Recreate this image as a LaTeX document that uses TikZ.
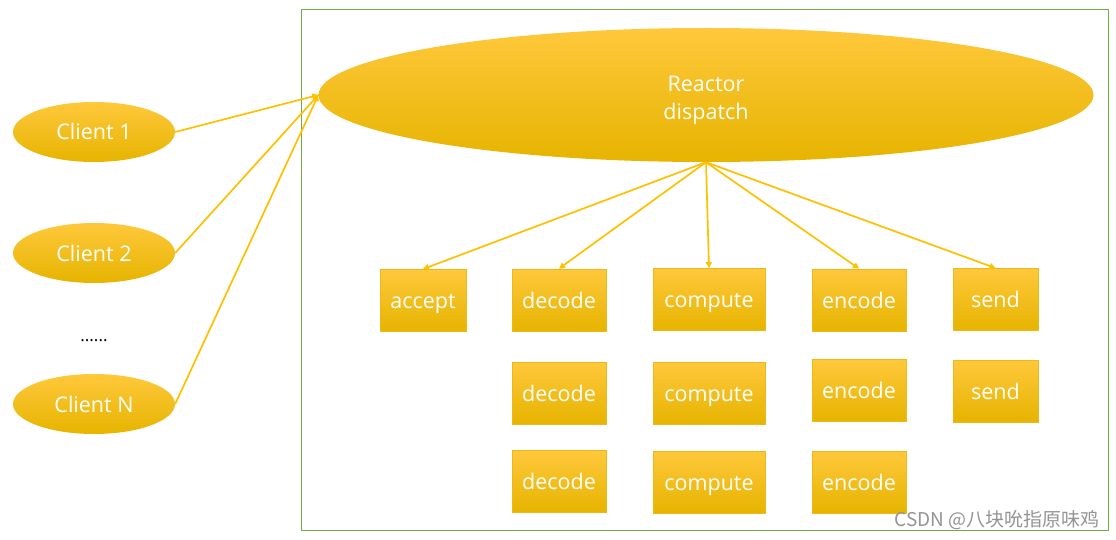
\documentclass[tikz,border=0pt]{standalone}
\usepackage{fontspec}
\setmainfont{Open Sans}
\newfontfamily\cjk{Noto Sans CJK SC}
\usetikzlibrary{shapes.geometric, arrows.meta}

\definecolor{goldtop}{RGB}{255,200,60}
\definecolor{goldmid}{RGB}{255,192,0}
\definecolor{goldbot}{RGB}{230,180,0}
\definecolor{goldline}{RGB}{255,192,0}
\definecolor{goldedge}{RGB}{240,184,20}
\definecolor{framegreen}{RGB}{112,173,71}

\tikzstyle{gold}=[top color=goldtop, middle color=goldmid, bottom color=goldbot, text=white, font=\fontsize{21.5}{28}\selectfont, inner sep=0pt]
\tikzstyle{client}=[gold, ellipse, minimum width=162pt, minimum height=60pt, text height=21pt, text depth=5pt]
\tikzstyle{task}=[gold, rectangle, draw=goldedge, line width=0.8pt, minimum height=62pt, text height=21pt, text depth=5pt]

\begin{document}
\begin{tikzpicture}[x=1pt, y=-1pt]
        \useasboundingbox (0, 0) rectangle (1116, 540);
        \draw[framegreen, line width=1pt] (301, 10) rectangle (1108, 530);

        \node[gold, ellipse, minimum width=775pt, minimum height=134pt, align=center](reactor) at (706, 95) {\rule{0pt}{27pt}Reactor\\dispatch};

        \node[client](c1) at (94, 132) {Client 1};
        \node[client](c2) at (94, 253) {Client 2};
        \node(dots) at (94, 341) {\fontsize{17}{20}\selectfont ......};
        \node[client](cn) at (94, 404) {Client N};

        \node[task, minimum width=86pt](accept) at (423, 300.5) {accept};

        \node[task, minimum width=94pt](decode1) at (559, 300) {decode};
        \node[task, minimum width=94pt](decode2) at (559, 393) {decode};
        \node[task, minimum width=94pt](decode3) at (559, 481.5) {decode};

        \node[task, minimum width=112pt](compute1) at (709, 299.5) {compute};
        \node[task, minimum width=112pt](compute2) at (709, 393) {compute};
        \node[task, minimum width=112pt](compute3) at (709, 482) {compute};

        \node[task, minimum width=94pt](encode1) at (859, 300) {encode};
        \node[task, minimum width=94pt](encode2) at (859, 390.5) {encode};
        \node[task, minimum width=94pt](encode3) at (859, 482) {encode};

        \node[task, minimum width=85pt](send1) at (995.5, 299.5) {send};
        \node[task, minimum width=85pt](send2) at (995.5, 391) {send};

        \node[text=black!42, font=\cjk\fontsize{19}{22}\selectfont, anchor=east, inner sep=0pt](mark) at (1100, 520) {CSDN @八块吮指原味鸡};

        \begin{scope}[every path/.style={-{Triangle[width=6pt, length=6pt]}, draw=goldline, line width=1.7pt}]
            \draw (c1.east) -- (reactor.west);
            \draw (c2.east) -- (reactor.west);
            \draw (cn.east) -- (reactor.west);

            \draw (reactor.south) -- (accept.north);
            \draw (reactor.south) -- (decode1.north);
            \draw (reactor.south) -- (compute1.north);
            \draw (reactor.south) -- (encode1.north);
            \draw (reactor.south) -- (send1.north);
        \end{scope}
    \end{tikzpicture}
\end{document}
